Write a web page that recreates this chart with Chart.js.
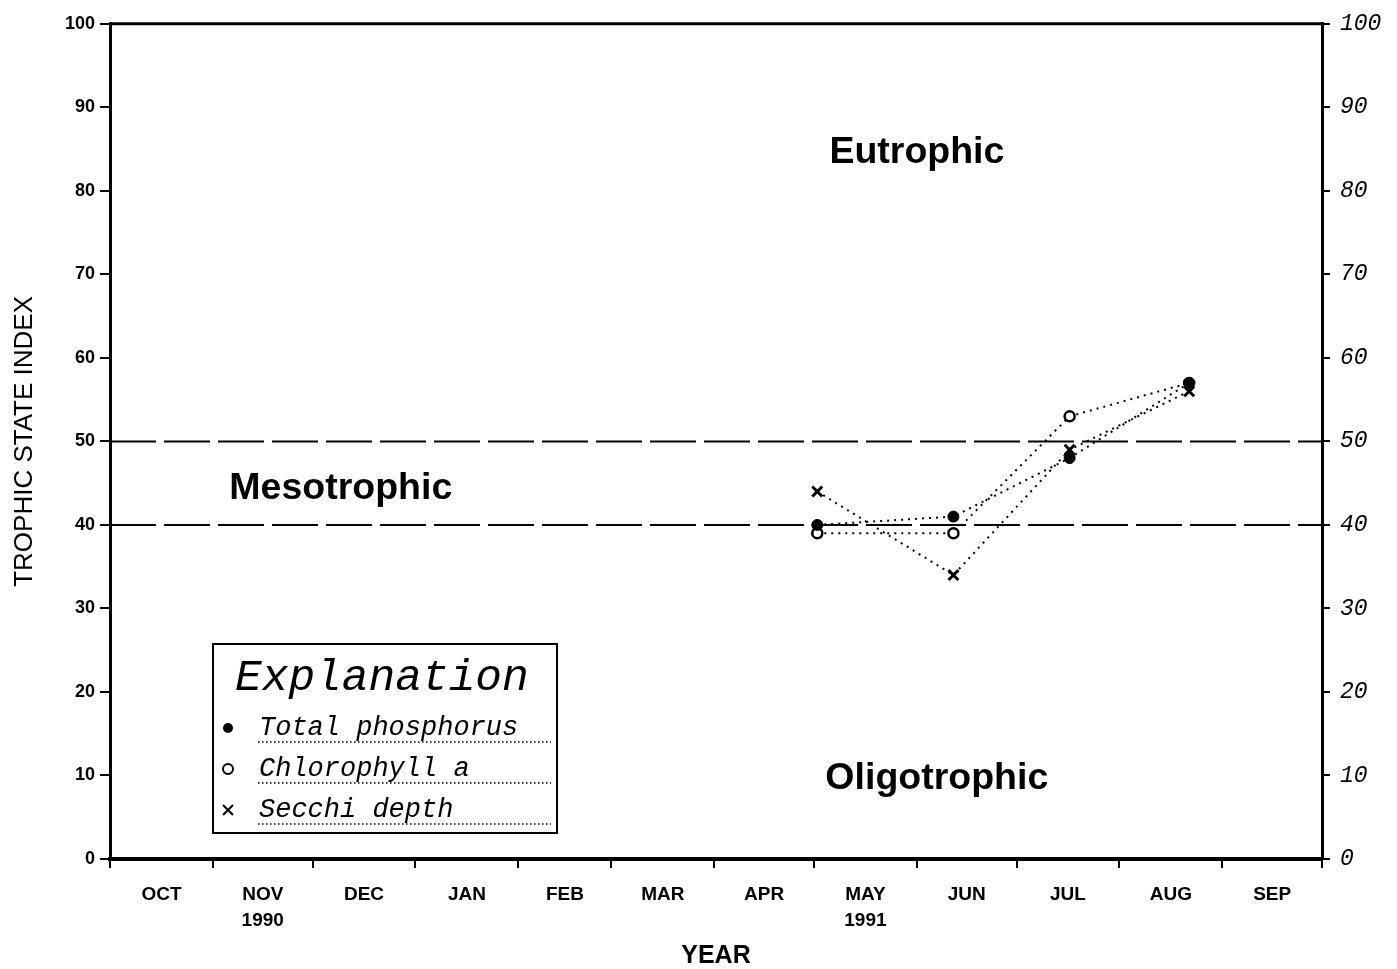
<!DOCTYPE html>
<html lang="en">
<head>
  <meta charset="UTF-8" />
  <title>Trophic State Index</title>
  <script src="https://cdn.jsdelivr.net/npm/chart.js"></script>
  <style>
    body { margin: 0; background: #fff; }
    #wrap { width: 1397px; height: 969px; }
  </style>
</head>
<body>
  <div id="wrap"><canvas id="chart"></canvas></div>

  <script>
    // x axis is days since 1 Oct 1990 (water year 1991)
    const monthStarts = [0, 31, 61, 92, 123, 151, 182, 212, 243, 273, 304, 335, 365];
    const monthLabels = [["OCT"], ["NOV", "1990"], ["DEC"], ["JAN"], ["FEB"], ["MAR"],
                         ["APR"], ["MAY", "1991"], ["JUN"], ["JUL"], ["AUG"], ["SEP"]];
    const yTicks = [0, 10, 20, 30, 40, 50, 60, 70, 80, 90, 100];

    const sampleDays = [213, 254, 289, 325];
    const totalPhosphorus = [40, 41, 48, 57];
    const chlorophyllA = [39, 39, 53, 57];
    const secchiDepth = [44, 34, 49, 56];

    // mesotrophic band limits
    const bandDays = [0, 365];
    const mesoLower = [40, 40];
    const mesoUpper = [50, 50];

    const monthMids = monthStarts.slice(0, -1).map((d, i) => (d + monthStarts[i + 1]) / 2);

    const toPts = (xs, ys) => xs.map((x, i) => ({ x: x, y: ys[i] }));

    const dashed = {
      borderColor: "#000", borderWidth: 2, borderDash: [46, 8],
      pointRadius: 0, fill: false
    };
    const dotted = {
      borderColor: "#000", borderWidth: 2, borderDash: [2, 5],
      fill: false, pointBorderColor: "#000"
    };

    const extras = {
      id: "extras",
      afterDraw(chart) {
        const c = chart.ctx, a = chart.chartArea;
        const x = chart.scales.x, y = chart.scales.y;
        c.save();
        // top frame line
        c.strokeStyle = "#000";
        c.lineWidth = 3;
        c.beginPath();
        c.moveTo(a.left - 1, a.top);
        c.lineTo(a.right + 1, a.top);
        c.stroke();

        // zone names
        c.fillStyle = "#000";
        c.font = "bold 37.5px 'Liberation Sans', Arial, sans-serif";
        c.textAlign = "center";
        c.textBaseline = "middle";
        c.fillText("Eutrophic", x.getPixelForValue(243), y.getPixelForValue(84.6));
        c.fillText("Mesotrophic", x.getPixelForValue(69.5), y.getPixelForValue(44.4));
        c.fillText("Oligotrophic", x.getPixelForValue(249), y.getPixelForValue(9.6));

        // explanation box
        const bx = 213, by = 644, bw = 344, bh = 189;
        c.lineWidth = 2;
        c.fillStyle = "#fff";
        c.fillRect(bx, by, bw, bh);
        c.strokeRect(bx, by, bw, bh);
        c.fillStyle = "#000";
        c.textAlign = "left";
        c.textBaseline = "alphabetic";
        c.font = "italic 44.5px 'Liberation Mono', 'Courier New', monospace";
        c.fillText("Explanation", bx + 22, by + 46);

        const entries = ["Total phosphorus", "Chlorophyll a", "Secchi depth"];
        c.font = "italic 27px 'Liberation Mono', 'Courier New', monospace";
        entries.forEach((t, i) => {
          const base = by + 91 + i * 41;
          c.fillText(t, bx + 46, base);
          c.save();
          c.setLineDash([1.5, 2.5]);
          c.lineWidth = 1.5;
          c.beginPath();
          c.moveTo(bx + 45, base + 7);
          c.lineTo(bx + bw - 6, base + 7);
          c.stroke();
          c.restore();
          const mx = bx + 15, my = base - 7;
          c.lineWidth = 2;
          c.beginPath();
          if (i === 0) {
            c.arc(mx, my, 5, 0, Math.PI * 2);
            c.fill();
          } else if (i === 1) {
            c.arc(mx, my, 5, 0, Math.PI * 2);
            c.stroke();
          } else {
            c.moveTo(mx - 5, my - 5); c.lineTo(mx + 5, my + 5);
            c.moveTo(mx + 5, my - 5); c.lineTo(mx - 5, my + 5);
            c.stroke();
          }
        });
        c.restore();
      }
    };

    const yTickFont = { family: "'Liberation Sans', Arial, sans-serif", size: 18, weight: "bold" };
    const xTickFont = { family: "'Liberation Sans', Arial, sans-serif", size: 19, weight: "bold", lineHeight: 1.35 };

    new Chart(document.getElementById("chart"), {
      type: "line",
      data: {
        datasets: [
          Object.assign({ label: "lower", data: toPts(bandDays, mesoLower) }, dashed),
          Object.assign({ label: "upper", data: toPts(bandDays, mesoUpper) }, dashed),
          Object.assign({
            label: "Total phosphorus", data: toPts(sampleDays, totalPhosphorus),
            pointStyle: "circle", pointRadius: 5.5, pointBackgroundColor: "#000", pointBorderWidth: 1
          }, dotted),
          Object.assign({
            label: "Chlorophyll a", data: toPts(sampleDays, chlorophyllA),
            pointStyle: "circle", pointRadius: 5, pointBackgroundColor: "#fff", pointBorderWidth: 2.5
          }, dotted),
          Object.assign({
            label: "Secchi depth", data: toPts(sampleDays, secchiDepth),
            pointStyle: "crossRot", pointRadius: 7, pointBorderWidth: 3
          }, dotted)
        ]
      },
      options: {
        responsive: true,
        maintainAspectRatio: false,
        animation: false,
        layout: { padding: { top: 22, left: 0, right: 0, bottom: 0 } },
        plugins: { legend: { display: false }, tooltip: { enabled: false } },
        scales: {
          x: {
            type: "linear",
            position: "bottom",
            min: 0,
            max: 365,
            afterBuildTicks(scale) {
              scale.ticks = monthStarts.concat(monthMids).sort((p, q) => p - q).map(v => ({ value: v }));
            },
            afterFit(scale) { scale.height = 110; },
            ticks: {
              autoSkip: false,
              maxRotation: 0,
              padding: 14,
              color: "#000",
              font: xTickFont,
              callback(value) {
                const i = monthMids.indexOf(value);
                return i >= 0 ? monthLabels[i] : "";
              }
            },
            grid: {
              drawOnChartArea: false,
              tickLength: 9,
              lineWidth: 2,
              color: ctx => (ctx.tick && monthStarts.includes(ctx.tick.value)) ? "#000" : "rgba(0,0,0,0)"
            },
            border: { display: true, color: "#000", width: 4 },
            title: {
              display: true,
              text: "YEAR",
              color: "#000",
              font: { family: "'Liberation Sans', Arial, sans-serif", size: 25, weight: "bold" },
              padding: { top: 0, bottom: -2 }
            }
          },
          y: {
            position: "left",
            min: 0,
            max: 100,
            afterBuildTicks(scale) { scale.ticks = yTicks.map(v => ({ value: v })); },
            afterFit(scale) { scale.width = 110; },
            ticks: { padding: 5, color: "#000", font: yTickFont },
            grid: { drawOnChartArea: false, tickLength: 10, lineWidth: 2, color: "#000" },
            border: { display: true, color: "#000", width: 3 },
            title: {
              display: true,
              text: "TROPHIC STATE INDEX",
              color: "#000",
              font: { family: "'Liberation Sans', Arial, sans-serif", size: 26 },
              padding: { top: 9, bottom: 0 }
            }
          },
          y2: {
            position: "right",
            min: 0,
            max: 100,
            afterBuildTicks(scale) { scale.ticks = yTicks.map(v => ({ value: v })); },
            afterFit(scale) { scale.width = 75; },
            ticks: {
              padding: 10,
              color: "#000",
              font: { family: "'Liberation Mono', 'Courier New', monospace", size: 23, style: "italic" }
            },
            grid: { drawOnChartArea: false, tickLength: 8, lineWidth: 2, color: "#000" },
            border: { display: true, color: "#000", width: 3 }
          }
        }
      },
      plugins: [extras]
    });
  </script>
</body>
</html>
